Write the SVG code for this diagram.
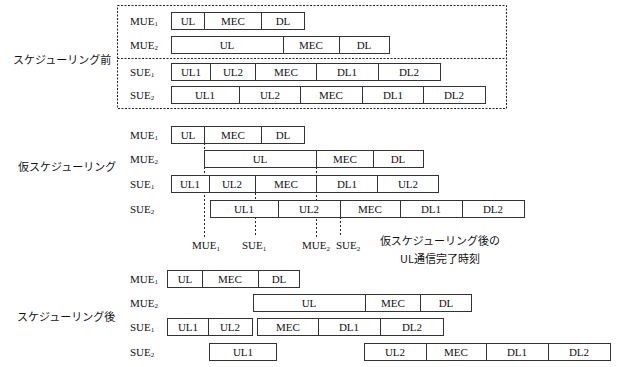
<svg xmlns="http://www.w3.org/2000/svg" width="620" height="367" viewBox="0 0 620 367">
<style>
.b{fill:#fff;stroke:#333;stroke-width:1}
.t{font-family:"Liberation Serif",serif;font-size:11px;text-anchor:middle;fill:#111}
.l{font-family:"Liberation Serif",serif;font-size:11px;fill:#111}
.s{font-size:7px}
.jp{font-family:"Noto Sans CJK JP","Noto Sans",sans-serif;font-size:11px;fill:#111}
.dot{stroke:#222;stroke-width:1;stroke-dasharray:2 2;fill:none}
.frame{stroke:#222;stroke-width:1;stroke-dasharray:2 1.5;fill:none}
</style>
<rect width="620" height="367" fill="#fff"/>

<!-- Section labels -->
<g id="sec1-label"><text class="jp" x="13" y="64">スケジューリング前</text></g>
<g id="sec2-label"><text class="jp" x="18" y="171">仮スケジューリング</text></g>
<g id="sec3-label"><text class="jp" x="17" y="321">スケジューリング後</text></g>

<!-- Connectors: dashed frame and dotted time markers -->
<g id="connectors">
  <rect class="frame" x="117.5" y="5.5" width="389" height="103"/>
  <line class="frame" x1="117.5" y1="58.5" x2="506.5" y2="58.5"/>
  <line class="dot" x1="204.5" y1="143" x2="204.5" y2="237"/>
  <line class="dot" x1="255.5" y1="193" x2="255.5" y2="237"/>
  <line class="dot" x1="316.5" y1="167" x2="316.5" y2="237"/>
  <line class="dot" x1="340.5" y1="217" x2="340.5" y2="237"/>
</g>

<!-- Section 1: before scheduling -->
<g id="s1-MUE1">
  <text class="l" x="130" y="24.5">MUE<tspan class="s" dy="1.5">1</tspan></text>
  <rect class="b" x="171.5" y="12.5" width="33" height="17"/><text class="t" x="188" y="25">UL</text>
  <rect class="b" x="204.5" y="12.5" width="57" height="17"/><text class="t" x="233" y="25">MEC</text>
  <rect class="b" x="261.5" y="12.5" width="43" height="17"/><text class="t" x="283" y="25">DL</text>
</g>
<g id="s1-MUE2">
  <text class="l" x="130" y="48.5">MUE<tspan class="s" dy="1.5">2</tspan></text>
  <rect class="b" x="171.5" y="36.5" width="112" height="17"/><text class="t" x="227" y="49">UL</text>
  <rect class="b" x="283.5" y="36.5" width="56" height="17"/><text class="t" x="311" y="49">MEC</text>
  <rect class="b" x="339.5" y="36.5" width="50" height="17"/><text class="t" x="364" y="49">DL</text>
</g>
<g id="s1-SUE1">
  <text class="l" x="130" y="75.5">SUE<tspan class="s" dy="1.5">1</tspan></text>
  <rect class="b" x="171.5" y="63.5" width="39" height="17"/><text class="t" x="191" y="76">UL1</text>
  <rect class="b" x="210.5" y="63.5" width="45" height="17"/><text class="t" x="233" y="76">UL2</text>
  <rect class="b" x="255.5" y="63.5" width="61" height="17"/><text class="t" x="286" y="76">MEC</text>
  <rect class="b" x="316.5" y="63.5" width="62" height="17"/><text class="t" x="347" y="76">DL1</text>
  <rect class="b" x="378.5" y="63.5" width="62" height="17"/><text class="t" x="409" y="76">DL2</text>
</g>
<g id="s1-SUE2">
  <text class="l" x="130" y="98.5">SUE<tspan class="s" dy="1.5">2</tspan></text>
  <rect class="b" x="171.5" y="86.5" width="68" height="17"/><text class="t" x="205" y="99">UL1</text>
  <rect class="b" x="239.5" y="86.5" width="61" height="17"/><text class="t" x="270" y="99">UL2</text>
  <rect class="b" x="300.5" y="86.5" width="62" height="17"/><text class="t" x="331" y="99">MEC</text>
  <rect class="b" x="362.5" y="86.5" width="61" height="17"/><text class="t" x="393" y="99">DL1</text>
  <rect class="b" x="423.5" y="86.5" width="62" height="17"/><text class="t" x="454" y="99">DL2</text>
</g>

<!-- Section 2: provisional scheduling -->
<g id="s2-MUE1">
  <text class="l" x="130" y="138.5">MUE<tspan class="s" dy="1.5">1</tspan></text>
  <rect class="b" x="171.5" y="126.5" width="33" height="17"/><text class="t" x="188" y="139">UL</text>
  <rect class="b" x="204.5" y="126.5" width="57" height="17"/><text class="t" x="233" y="139">MEC</text>
  <rect class="b" x="261.5" y="126.5" width="43" height="17"/><text class="t" x="283" y="139">DL</text>
</g>
<g id="s2-MUE2">
  <text class="l" x="130" y="162.5">MUE<tspan class="s" dy="1.5">2</tspan></text>
  <rect class="b" x="204.5" y="150.5" width="112" height="17"/><text class="t" x="260" y="163">UL</text>
  <rect class="b" x="316.5" y="150.5" width="57" height="17"/><text class="t" x="345" y="163">MEC</text>
  <rect class="b" x="373.5" y="150.5" width="50" height="17"/><text class="t" x="398" y="163">DL</text>
</g>
<g id="s2-SUE1">
  <text class="l" x="130" y="187.5">SUE<tspan class="s" dy="1.5">1</tspan></text>
  <rect class="b" x="171.5" y="175.5" width="38" height="17"/><text class="t" x="190" y="188">UL1</text>
  <rect class="b" x="209.5" y="175.5" width="46" height="17"/><text class="t" x="232" y="188">UL2</text>
  <rect class="b" x="255.5" y="175.5" width="61" height="17"/><text class="t" x="286" y="188">MEC</text>
  <rect class="b" x="316.5" y="175.5" width="61" height="17"/><text class="t" x="347" y="188">DL1</text>
  <rect class="b" x="377.5" y="175.5" width="61" height="17"/><text class="t" x="408" y="188">UL2</text>
</g>
<g id="s2-SUE2">
  <text class="l" x="130" y="212.5">SUE<tspan class="s" dy="1.5">2</tspan></text>
  <rect class="b" x="210.5" y="200.5" width="68" height="17"/><text class="t" x="244" y="213">UL1</text>
  <rect class="b" x="278.5" y="200.5" width="62" height="17"/><text class="t" x="309" y="213">UL2</text>
  <rect class="b" x="340.5" y="200.5" width="60" height="17"/><text class="t" x="370" y="213">MEC</text>
  <rect class="b" x="400.5" y="200.5" width="62" height="17"/><text class="t" x="431" y="213">DL1</text>
  <rect class="b" x="462.5" y="200.5" width="62" height="17"/><text class="t" x="493" y="213">DL2</text>
</g>

<!-- Time marker labels -->
<g id="markers">
  <text class="l" x="192" y="249">MUE<tspan class="s" dy="1.5">1</tspan></text>
  <text class="l" x="242" y="249">SUE<tspan class="s" dy="1.5">1</tspan></text>
  <text class="l" x="302" y="249">MUE<tspan class="s" dy="1.5">2</tspan></text>
  <text class="l" x="336" y="249">SUE<tspan class="s" dy="1.5">2</tspan></text>
</g>
<g id="note">
  <text class="jp" x="440" y="245" text-anchor="middle">仮スケジューリング後の</text>
  <text class="jp" x="440" y="263" text-anchor="middle">UL通信完了時刻</text>
</g>

<!-- Section 3: after scheduling -->
<g id="s3-MUE1">
  <text class="l" x="130" y="282.5">MUE<tspan class="s" dy="1.5">1</tspan></text>
  <rect class="b" x="167.5" y="270.5" width="35" height="17"/><text class="t" x="185" y="283">UL</text>
  <rect class="b" x="202.5" y="270.5" width="56" height="17"/><text class="t" x="230" y="283">MEC</text>
  <rect class="b" x="258.5" y="270.5" width="41" height="17"/><text class="t" x="279" y="283">DL</text>
</g>
<g id="s3-MUE2">
  <text class="l" x="130" y="306.5">MUE<tspan class="s" dy="1.5">2</tspan></text>
  <rect class="b" x="253.5" y="294.5" width="112" height="17"/><text class="t" x="309" y="307">UL</text>
  <rect class="b" x="365.5" y="294.5" width="55" height="17"/><text class="t" x="393" y="307">MEC</text>
  <rect class="b" x="420.5" y="294.5" width="51" height="17"/><text class="t" x="446" y="307">DL</text>
</g>
<g id="s3-SUE1">
  <text class="l" x="130" y="330.5">SUE<tspan class="s" dy="1.5">1</tspan></text>
  <rect class="b" x="167.5" y="318.5" width="41" height="17"/><text class="t" x="188" y="331">UL1</text>
  <rect class="b" x="208.5" y="318.5" width="44" height="17"/><text class="t" x="230" y="331">UL2</text>
  <rect class="b" x="257.5" y="318.5" width="61" height="17"/><text class="t" x="288" y="331">MEC</text>
  <rect class="b" x="318.5" y="318.5" width="62" height="17"/><text class="t" x="349" y="331">DL1</text>
  <rect class="b" x="380.5" y="318.5" width="63" height="17"/><text class="t" x="412" y="331">DL2</text>
</g>
<g id="s3-SUE2">
  <text class="l" x="130" y="355.5">SUE<tspan class="s" dy="1.5">2</tspan></text>
  <rect class="b" x="209.5" y="343.5" width="67" height="17"/><text class="t" x="243" y="356">UL1</text>
  <rect class="b" x="364.5" y="343.5" width="62" height="17"/><text class="t" x="395" y="356">UL2</text>
  <rect class="b" x="426.5" y="343.5" width="60" height="17"/><text class="t" x="456" y="356">MEC</text>
  <rect class="b" x="486.5" y="343.5" width="62" height="17"/><text class="t" x="517" y="356">DL1</text>
  <rect class="b" x="548.5" y="343.5" width="62" height="17"/><text class="t" x="579" y="356">DL2</text>
</g>
</svg>
